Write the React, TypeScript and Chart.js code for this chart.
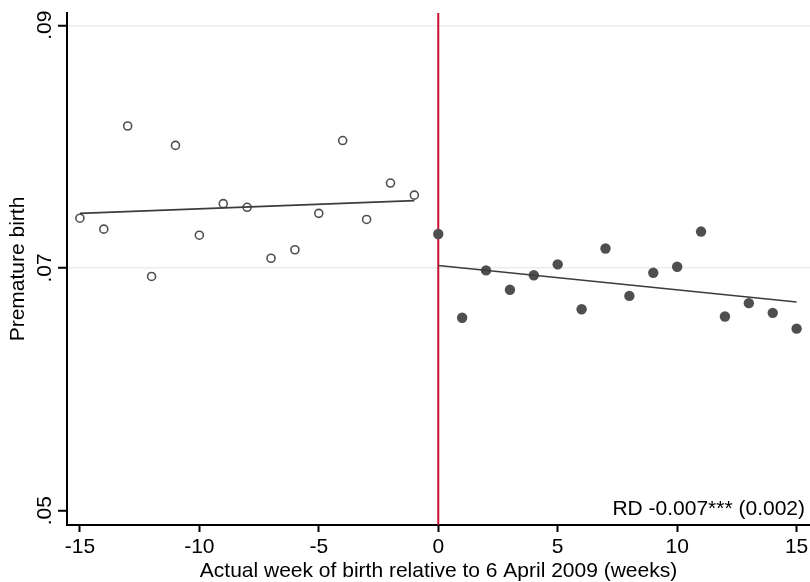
import React, { useEffect, useRef } from "react";
import { Chart, registerables } from "chart.js";

Chart.register(...registerables);

const weeksLeft = [-15, -14, -13, -12, -11, -10, -9, -8, -7, -6, -5, -4, -3, -2, -1];
const valuesLeft = [0.0741, 0.0732, 0.0817, 0.0693, 0.0801, 0.0727, 0.0753, 0.0750, 0.0708, 0.0715, 0.0745, 0.0805, 0.0740, 0.0770, 0.0760];
const weeksRight = [0, 1, 2, 3, 4, 5, 6, 7, 8, 9, 10, 11, 12, 13, 14, 15];
const valuesRight = [0.0728, 0.0659, 0.0698, 0.0682, 0.0694, 0.0703, 0.0666, 0.0716, 0.0677, 0.0696, 0.0701, 0.0730, 0.0660, 0.0671, 0.0663, 0.0650];
const fitLeftX = [-15, -1];
const fitLeftY = [0.0745, 0.07555];
const fitRightX = [0, 15];
const fitRightY = [0.0702, 0.0672];
const cutoff = 0;
const xTicks = [-15, -10, -5, 0, 5, 10, 15];
const yTicks = [0.05, 0.07, 0.09];
const yTickLabels = [".05", ".07", ".09"];
const xTitle = "Actual week of birth relative to 6 April 2009 (weeks)";
const yTitle = "Premature birth";
const rdLabel = "RD -0.007*** (0.002)";

const FONT = '"Liberation Sans", Arial, Helvetica, sans-serif';
const FS = 21;
const DARK = "#4f4f4f";

export default function App() {
  const ref = useRef<HTMLCanvasElement | null>(null);
  useEffect(() => {
    if (!ref.current) return;
    const textPlugin = {
      id: "textPlugin",
      afterDraw(chart: any) {
        const ctx = chart.ctx;
        const ys = chart.scales.y;
        const ca = chart.chartArea;
        ctx.save();
        ctx.fillStyle = "#000";
        ctx.font = `${FS}px ${FONT}`;
        yTicks.forEach((v, i) => {
          const py = ys.getPixelForValue(v);
          ctx.save();
          ctx.translate(45, py);
          ctx.rotate(-Math.PI / 2);
          ctx.textAlign = "center";
          ctx.textBaseline = "middle";
          ctx.fillText(yTickLabels[i], 0, 0);
          ctx.restore();
        });
        ctx.save();
        ctx.translate(18, (ca.top + ca.bottom) / 2);
        ctx.rotate(-Math.PI / 2);
        ctx.textAlign = "center";
        ctx.textBaseline = "middle";
        ctx.fillText(yTitle, 0, 0);
        ctx.restore();
        ctx.textAlign = "center";
        ctx.textBaseline = "middle";
        ctx.fillText(xTitle, (ca.left + ca.right) / 2, 571);
        ctx.textAlign = "right";
        ctx.fillText(rdLabel, 805, 509);
        ctx.restore();
      },
    };
    const cutoffPlugin = {
      id: "cutoffPlugin",
      beforeDatasetsDraw(chart: any) {
        const ctx = chart.ctx;
        const px = chart.scales.x.getPixelForValue(cutoff);
        const ca = chart.chartArea;
        ctx.save();
        ctx.strokeStyle = "#c8102e";
        ctx.lineWidth = 2;
        ctx.beginPath();
        ctx.moveTo(px, ca.top);
        ctx.lineTo(px, ca.bottom);
        ctx.stroke();
        ctx.restore();
      },
    };
    const chart = new Chart(ref.current, {
      type: "scatter",
      data: {
        datasets: [
          {
            type: "line",
            data: fitLeftX.map((x, i) => ({ x, y: fitLeftY[i] })),
            borderColor: "#3c3c3c",
            borderWidth: 1.6,
            pointRadius: 0,
            fill: false,
          },
          {
            type: "line",
            data: fitRightX.map((x, i) => ({ x, y: fitRightY[i] })),
            borderColor: "#3c3c3c",
            borderWidth: 1.6,
            pointRadius: 0,
            fill: false,
          },
          {
            data: weeksLeft.map((x, i) => ({ x, y: valuesLeft[i] })),
            pointRadius: 4,
            pointBorderWidth: 1.6,
            pointBackgroundColor: "#ffffff",
            pointBorderColor: DARK,
          },
          {
            data: weeksRight.map((x, i) => ({ x, y: valuesRight[i] })),
            pointRadius: 5.2,
            pointBorderWidth: 0,
            pointBackgroundColor: DARK,
            pointBorderColor: DARK,
          },
        ],
      },
      options: {
        responsive: false,
        animation: false,
        layout: { autoPadding: false, padding: { top: 13, right: 0, left: 0, bottom: 0 } },
        plugins: { legend: { display: false }, tooltip: { enabled: false } },
        scales: {
          x: {
            type: "linear",
            min: -15.54,
            max: 15.56,
            afterBuildTicks: (s: any) => {
              s.ticks = xTicks.map((v) => ({ value: v }));
            },
            afterFit: (s: any) => {
              s.height = 57;
              s.paddingLeft = 0;
              s.paddingRight = 0;
            },
            border: { display: true, color: "#000", width: 2 },
            grid: {
              drawOnChartArea: false,
              drawTicks: true,
              tickLength: 7,
              tickColor: "#000",
              tickWidth: 2,
            },
            ticks: {
              color: "#000",
              font: { family: FONT, size: FS },
              padding: 3,
              maxRotation: 0,
              callback: (v: any) => String(v),
            },
          },
          y: {
            type: "linear",
            min: 0.04882,
            max: 0.09101,
            afterBuildTicks: (s: any) => {
              s.ticks = yTicks.map((v) => ({ value: v }));
            },
            afterFit: (s: any) => {
              s.width = 67;
              s.paddingTop = 0;
              s.paddingBottom = 0;
            },
            border: { display: true, color: "#000", width: 2 },
            grid: {
              drawOnChartArea: true,
              color: (c: any) => (c.tick && c.tick.value === 0.05 ? "rgba(0,0,0,0)" : "#e6eef0"),
              lineWidth: 1.5,
              drawTicks: true,
              tickLength: 9,
              tickColor: "#000",
              tickWidth: 2,
            },
            ticks: { display: false },
          },
        },
      },
      plugins: [cutoffPlugin, textPlugin],
    } as any);
    return () => chart.destroy();
  }, []);
  return (
    <div style={{ position: "fixed", left: 0, top: 0, width: 810, height: 582, background: "#fff" }}>
      <canvas ref={ref} width={810} height={582} style={{ width: 810, height: 582, display: "block" }} />
    </div>
  );
}
